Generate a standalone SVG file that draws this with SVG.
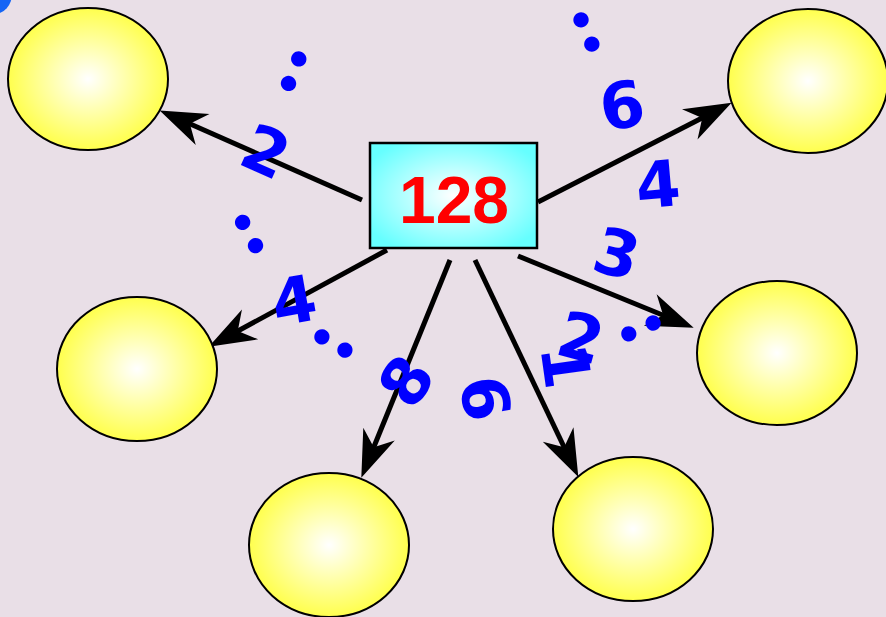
<svg xmlns="http://www.w3.org/2000/svg" width="886" height="617" viewBox="0 0 886 617">
<defs>
<radialGradient id="yel" cx="50%" cy="50%" r="50%">
<stop offset="0" stop-color="#FFFFFF"/>
<stop offset="1" stop-color="#FFFF4D"/>
</radialGradient>
<radialGradient id="cyn" cx="50%" cy="50%" r="60%">
<stop offset="0" stop-color="#FFFFFF"/>
<stop offset="1" stop-color="#66FFFF"/>
</radialGradient>
<marker id="ah" markerUnits="userSpaceOnUse" orient="auto" viewBox="-17 -18 48 36" refX="0" refY="0" markerWidth="48" markerHeight="36">
<path d="M31,0 L-16,-17 L-2,0 L-16,17 Z" fill="#000"/>
</marker>
<style>
.node{fill:url(#yel);stroke:#000;stroke-width:2}
.conn{stroke:#000;stroke-width:5;fill:none;marker-end:url(#ah)}
.lbl{font-family:"DejaVu Sans",sans-serif;font-weight:bold;font-size:64px;fill:#0000FF;text-anchor:middle}
.dots{font-family:Lato,"DejaVu Sans",sans-serif;font-weight:900;font-size:76px;fill:#0000FF;stroke:#0000FF;stroke-width:3;stroke-linejoin:round;text-anchor:middle}
</style>
</defs>
<rect x="0" y="0" width="886" height="617" fill="#E9DFE7"/>
<ellipse cx="-6" cy="-6" rx="18" ry="20" fill="#1565F5"/>
<g id="connectors">
<line class="conn" x1="362" y1="200" x2="188" y2="123"/>
<line class="conn" x1="538" y1="202" x2="704" y2="117"/>
<line class="conn" x1="387" y1="250" x2="236" y2="332"/>
<line class="conn" x1="450" y1="260" x2="373" y2="449"/>
<line class="conn" x1="475" y1="260" x2="565" y2="449"/>
<line class="conn" x1="518" y1="256" x2="665" y2="316"/>
</g>
<g id="node-tl"><ellipse class="node" cx="88" cy="79" rx="80" ry="71"/></g>
<g id="node-tr"><ellipse class="node" cx="808" cy="81" rx="80" ry="72"/></g>
<g id="node-l"><ellipse class="node" cx="137" cy="369" rx="80" ry="72"/></g>
<g id="node-r"><ellipse class="node" cx="777" cy="353" rx="80" ry="72"/></g>
<g id="node-bl"><ellipse class="node" cx="329" cy="545" rx="80" ry="72"/></g>
<g id="node-br"><ellipse class="node" cx="633" cy="529" rx="80" ry="72"/></g>
<g id="center">
<rect x="370" y="143" width="167" height="105" fill="url(#cyn)" stroke="#000" stroke-width="2.5"/>
<text x="454" y="223" font-family="Liberation Sans, Arial, sans-serif" font-weight="bold" font-size="66" fill="#FF0000" text-anchor="middle">128</text>
</g>
<g id="labels">
<text class="lbl" transform="translate(266,151) rotate(24)" y="23">2</text>
<text class="lbl" transform="translate(622,105) rotate(-10)" y="23">6</text>
<text class="lbl" transform="translate(658,184) rotate(-5)" y="23">4</text>
<text class="lbl" transform="translate(617,253) rotate(15)" y="23">3</text>
<text class="lbl" transform="translate(581,337) rotate(15)" y="23">2</text>
<text class="lbl" transform="translate(566,366) rotate(82)" y="23">1</text>
<text class="lbl" transform="translate(294,300) rotate(-10)" y="23">4</text>
<text class="lbl" transform="translate(406,381) rotate(-56)" y="23">8</text>
<text class="lbl" transform="translate(486,398) rotate(-100)" y="23">9</text>
<text class="dots" transform="translate(294,70) rotate(22.6)" y="20">:</text>
<text class="dots" transform="translate(586,31) rotate(-24)" y="20">:</text>
<text class="dots" transform="translate(248.5,233) rotate(-29)" y="20">:</text>
<text class="dots" transform="translate(332.5,343) rotate(-60)" y="20">:</text>
<text class="dots" transform="translate(642,328) rotate(66)" y="20">:</text>
</g>
</svg>
